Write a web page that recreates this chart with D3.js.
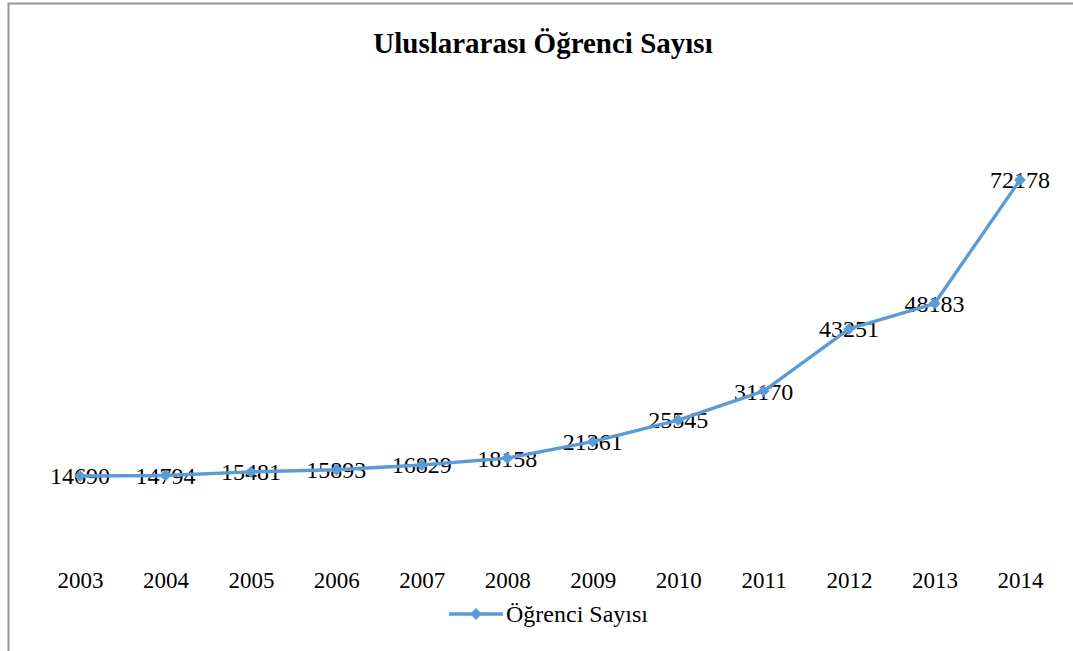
<!DOCTYPE html>
<html>
<head>
<meta charset="utf-8">
<script src="https://cdn.jsdelivr.net/npm/d3@7"></script>
<style>
  body { margin: 0; background: #fff; }
</style>
</head>
<body>
<div id="chart"></div>
<script>
// veriler
const years = ["2003", "2004", "2005", "2006", "2007", "2008", "2009", "2010", "2011", "2012", "2013", "2014"];
const students = [14690, 14794, 15481, 15893, 16829, 18158, 21361, 25545, 31170, 43251, 48183, 72178];
const seriesName = "Öğrenci Sayısı";
const chartTitle = "Uluslararası Öğrenci Sayısı";

const W = 1073, H = 651;
const color = "#5B9BD5";
const font = "'Liberation Serif', 'Times New Roman', serif";

const svg = d3.select("#chart").append("svg")
    .attr("width", W)
    .attr("height", H);

// chart border (extends past the visible picture on right and bottom)
svg.append("rect")
    .attr("x", 8.5).attr("y", 3.5)
    .attr("width", W + 20).attr("height", H + 20)
    .attr("fill", "#fff")
    .attr("stroke", "#979797")
    .attr("stroke-width", 2);

// title
svg.append("text")
    .attr("x", 543).attr("y", 53)
    .attr("text-anchor", "middle")
    .attr("font-family", font)
    .attr("font-weight", "bold")
    .attr("font-size", 29)
    .text(chartTitle);

// scales
const xScale = d3.scalePoint()
    .domain(years)
    .range([80, 1020]);

const yScale = d3.scaleLinear()
    .domain([0, 80000])
    .range([551.6, 139.7]);

// x axis: labels only
const xAxis = d3.axisBottom(xScale).tickSize(0).tickPadding(0);
const gx = svg.append("g")
    .attr("transform", "translate(0,571)")
    .call(xAxis);
gx.select(".domain").remove();
gx.selectAll("text")
    .attr("font-family", font)
    .attr("font-size", 23)
    .attr("fill", "#000")
    .attr("dy", "0.75em");

const pts = years.map((y, i) => ({ year: y, value: students[i] }));

// data labels (under the line like in the original)
svg.append("g").selectAll("text")
    .data(pts)
    .join("text")
    .attr("x", d => xScale(d.year))
    .attr("y", d => yScale(d.value))
    .attr("dy", "0.35em")
    .attr("text-anchor", "middle")
    .attr("font-family", font)
    .attr("font-size", 24)
    .attr("fill", "#000")
    .text(d => d.value);

// line
const line = d3.line()
    .x(d => xScale(d.year))
    .y(d => yScale(d.value));

svg.append("path")
    .datum(pts)
    .attr("d", line)
    .attr("fill", "none")
    .attr("stroke", color)
    .attr("stroke-width", 3.4)
    .attr("stroke-linejoin", "round");

// diamond markers
const diamond = d3.symbol().type(d3.symbolDiamond2).size(90);
svg.append("g").selectAll("path")
    .data(pts)
    .join("path")
    .attr("d", diamond)
    .attr("transform", d => `translate(${xScale(d.year)},${yScale(d.value)})`)
    .attr("fill", color);

// legend
const lg = svg.append("g").attr("transform", "translate(449,614)");
lg.append("line")
    .attr("x1", 0).attr("x2", 54)
    .attr("y1", 0).attr("y2", 0)
    .attr("stroke", color)
    .attr("stroke-width", 3.4);
lg.append("path")
    .attr("d", diamond)
    .attr("transform", "translate(27,0)")
    .attr("fill", color);
lg.append("text")
    .attr("x", 57).attr("y", 0)
    .attr("dy", "0.35em")
    .attr("font-family", font)
    .attr("font-size", 24)
    .attr("fill", "#000")
    .text(seriesName);
</script>
</body>
</html>
